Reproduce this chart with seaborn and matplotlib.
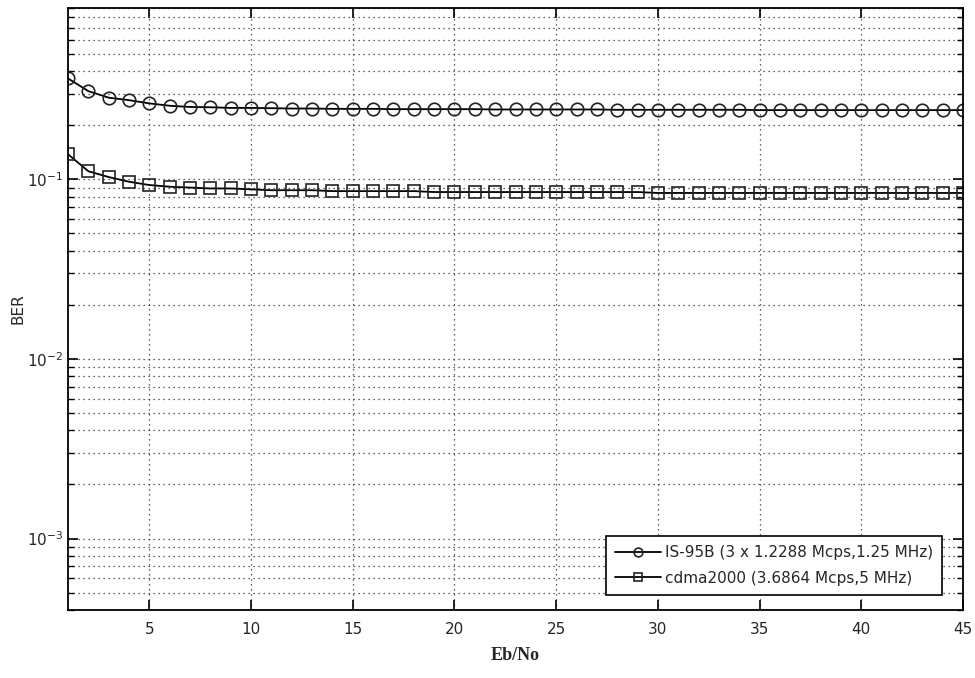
import numpy as np
import pandas as pd
import matplotlib
matplotlib.use("Agg")
import matplotlib.pyplot as plt
import seaborn as sns
from matplotlib.ticker import LogLocator, NullFormatter

# ---- data ----
ebno = list(range(1, 46))
is95b = [0.365, 0.310, 0.285, 0.276, 0.265, 0.257, 0.253, 0.252, 0.250, 0.250,
         0.249, 0.248, 0.248, 0.247, 0.247, 0.247, 0.246, 0.246, 0.246, 0.246,
         0.246, 0.245, 0.245, 0.245, 0.245, 0.245, 0.245, 0.244, 0.244, 0.244,
         0.244, 0.244, 0.244, 0.244, 0.243, 0.243, 0.243, 0.243, 0.243, 0.243,
         0.243, 0.243, 0.243, 0.243, 0.243]
cdma2000 = [0.138, 0.111, 0.103, 0.097, 0.093, 0.091, 0.090, 0.089, 0.089, 0.088,
            0.087, 0.087, 0.087, 0.086, 0.086, 0.086, 0.086, 0.086, 0.085, 0.085,
            0.085, 0.085, 0.085, 0.085, 0.085, 0.085, 0.085, 0.085, 0.085, 0.084,
            0.084, 0.084, 0.084, 0.084, 0.084, 0.084, 0.084, 0.084, 0.084, 0.084,
            0.084, 0.084, 0.084, 0.084, 0.084]
labels = ["IS-95B (3 x 1.2288 Mcps,1.25 MHz)", "cdma2000 (3.6864 Mcps,5 MHz)"]
markers = ["o", "s"]
x_ticks = [5, 10, 15, 20, 25, 30, 35, 40, 45]
x_label = "Eb/No"
y_label = "BER"

df = pd.DataFrame({"ebno": ebno * 2,
                   "ber": is95b + cdma2000,
                   "series": [labels[0]] * len(ebno) + [labels[1]] * len(ebno)})

sns.set_style("white")
plt.rcParams["font.family"] = ["DejaVu Sans"]

fig = plt.figure(figsize=(9.75, 6.78), dpi=100)
ax = fig.add_axes([68 / 975, 1 - 610 / 678, (963 - 68) / 975, (610 - 8) / 678])

sizes = [9.0, 8.0]
for lab, mk, ms in zip(labels, markers, sizes):
    sub = df[df["series"] == lab]
    sns.lineplot(data=sub, x="ebno", y="ber", ax=ax, color="k", linewidth=1.3,
                 marker=mk, markersize=ms, markerfacecolor="none",
                 markeredgecolor="#222222", markeredgewidth=1.2, label=lab)

ax.set_yscale("log")
ax.set_xlim(1, 45)
ax.set_ylim(4e-4, 0.9)
ax.set_xticks(x_ticks)
ax.set_xticklabels([str(t) for t in x_ticks], fontsize=11)
ax.yaxis.set_major_locator(LogLocator(base=10, numticks=10))
ax.yaxis.set_minor_locator(LogLocator(base=10, subs=np.arange(2, 10), numticks=20))
ax.yaxis.set_minor_formatter(NullFormatter())
ax.tick_params(axis="y", which="major", labelsize=11)

ax.tick_params(which="both", direction="in", top=True, right=True, bottom=True, left=True,
               color="k")
ax.tick_params(which="major", length=7, width=1.2)
ax.tick_params(which="minor", length=4, width=1.0)
ax.tick_params(axis="x", which="major", pad=9)
ax.xaxis.set_minor_locator(plt.NullLocator())

ax.grid(True, which="major", axis="both", linestyle=(0, (1, 3)), color="#333333", linewidth=0.9)
ax.grid(True, which="minor", axis="y", linestyle=(0, (1, 3)), color="#333333", linewidth=0.9)

for sp in ax.spines.values():
    sp.set_color("k")
    sp.set_linewidth(1.3)

ax.set_xlabel(x_label, fontsize=13, fontweight="bold",
              family=["Liberation Serif", "DejaVu Serif"], labelpad=7)
ax.set_ylabel(y_label, fontsize=11, labelpad=1)

leg = ax.legend(loc="lower right", bbox_to_anchor=(942 / 975, 1 - 595 / 678),
                bbox_transform=fig.transFigure, borderaxespad=0, fontsize=11,
                frameon=True, fancybox=False, edgecolor="k", framealpha=1,
                handlelength=3.0, markerscale=0.7, labelspacing=0.7,
                borderpad=0.6, handletextpad=0.25)
leg.get_frame().set_linewidth(1.2)

fig.savefig("out.png", dpi=100, facecolor="white")
